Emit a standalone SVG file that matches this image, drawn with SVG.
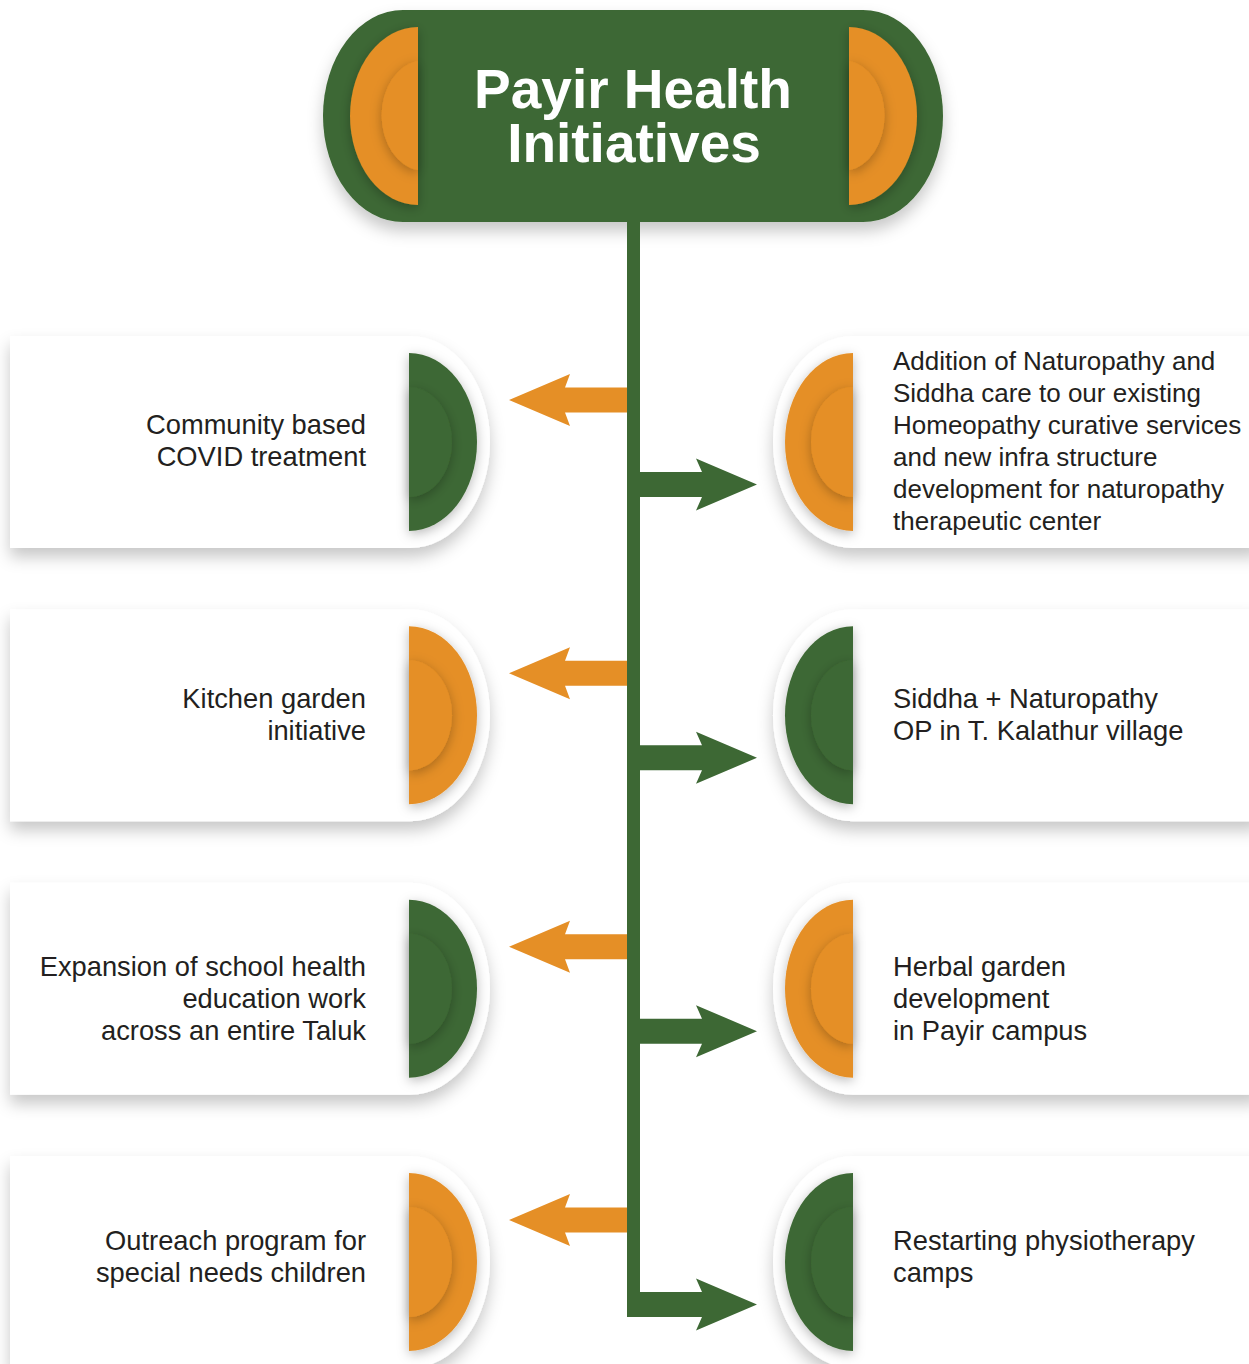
<svg xmlns="http://www.w3.org/2000/svg" width="1249" height="1364" viewBox="0 0 1249 1364">
<defs>
  <style>
    .g{fill:#3D6834}
    .o{fill:#E58F26}
    .card{fill:#ffffff}
    .lt{font-family:"Liberation Sans",Arial,sans-serif;font-size:27.3px;fill:#231F20;text-anchor:end}
    .rt{font-family:"Liberation Sans",Arial,sans-serif;font-size:27.3px;fill:#231F20;text-anchor:start}
    .rs{font-size:26px}
    .title{font-family:"Liberation Sans",Arial,sans-serif;font-size:55px;font-weight:bold;fill:#ffffff;text-anchor:middle}
  </style>
  <filter id="sh" x="-20%" y="-30%" width="140%" height="170%">
    <feDropShadow dx="0" dy="9" stdDeviation="8" flood-color="#000" flood-opacity="0.22"/>
  </filter>
  <filter id="hs" x="-40%" y="-30%" width="180%" height="160%">
    <feDropShadow dx="0" dy="3" stdDeviation="6" flood-color="#000" flood-opacity="0.28"/>
  </filter>
  <path id="lcard" d="M10,336 H410 A80,106 0 0 1 410,548 H10 Z"/>
  <path id="rcard" d="M1260,336 H853 A80,106 0 0 0 853,548 H1260 Z"/>
  <path id="lout" d="M409,353 A68,89 0 0 1 409,531 Z"/>
  <path id="lin" d="M409,387 A43,55 0 0 1 409,497 Z"/>
  <path id="rout" d="M853,353 A68,89 0 0 0 853,531 Z"/>
  <path id="rin" d="M853,387 A42,55 0 0 0 853,497 Z"/>
</defs>
<rect width="1249" height="1364" fill="#ffffff"/>

<g id="title-node">
  <path class="g" filter="url(#sh)" d="M403,10 H863 A80,106 0 0 1 863,222 H403 A80,106 0 0 1 403,10 Z"/>
  <path class="o" filter="url(#hs)" d="M418,27 A68,89 0 0 0 418,205 Z"/>
  <path class="o" filter="url(#hs)" d="M418,61 A42,55 0 0 0 418,170 Z"/>
  <path class="o" filter="url(#hs)" d="M849,27 A68,89 0 0 1 849,205 Z"/>
  <path class="o" filter="url(#hs)" d="M849,61 A41,55 0 0 1 849,170 Z"/>
  <text class="title" x="633" y="108">Payir Health</text>
  <text class="title" x="634" y="162">Initiatives</text>
</g>

<g id="left-1">
  <use href="#lcard" class="card" filter="url(#sh)"/>
  <use href="#lout" class="g" filter="url(#hs)"/>
  <use href="#lin" class="g" filter="url(#hs)"/>
  <text class="lt" x="366" y="434">Community based</text>
  <text class="lt" x="366" y="466">COVID treatment</text>
</g>
<g id="left-2" transform="translate(0,273.3)">
  <use href="#lcard" class="card" filter="url(#sh)"/>
  <use href="#lout" class="o" filter="url(#hs)"/>
  <use href="#lin" class="o" filter="url(#hs)"/>
  <text class="lt" x="366" y="435">Kitchen garden</text>
  <text class="lt" x="366" y="467">initiative</text>
</g>
<g id="left-3" transform="translate(0,546.7)">
  <use href="#lcard" class="card" filter="url(#sh)"/>
  <use href="#lout" class="g" filter="url(#hs)"/>
  <use href="#lin" class="g" filter="url(#hs)"/>
  <text class="lt" x="366" y="429">Expansion of school health</text>
  <text class="lt" x="366" y="461">education work</text>
  <text class="lt" x="366" y="493">across an entire Taluk</text>
</g>
<g id="left-4" transform="translate(0,820)">
  <use href="#lcard" class="card" filter="url(#sh)"/>
  <use href="#lout" class="o" filter="url(#hs)"/>
  <use href="#lin" class="o" filter="url(#hs)"/>
  <text class="lt" x="366" y="430">Outreach program for</text>
  <text class="lt" x="366" y="462">special needs children</text>
</g>

<g id="right-1">
  <use href="#rcard" class="card" filter="url(#sh)"/>
  <use href="#rout" class="o" filter="url(#hs)"/>
  <use href="#rin" class="o" filter="url(#hs)"/>
  <text class="rt rs" x="893" y="370">Addition of Naturopathy and</text>
  <text class="rt rs" x="893" y="402">Siddha care to our existing</text>
  <text class="rt rs" x="893" y="434">Homeopathy curative services</text>
  <text class="rt rs" x="893" y="466">and new infra structure</text>
  <text class="rt rs" x="893" y="498">development for naturopathy</text>
  <text class="rt rs" x="893" y="530">therapeutic center</text>
</g>
<g id="right-2" transform="translate(0,273.3)">
  <use href="#rcard" class="card" filter="url(#sh)"/>
  <use href="#rout" class="g" filter="url(#hs)"/>
  <use href="#rin" class="g" filter="url(#hs)"/>
  <text class="rt" x="893" y="435">Siddha + Naturopathy</text>
  <text class="rt" x="893" y="467">OP in T. Kalathur village</text>
</g>
<g id="right-3" transform="translate(0,546.7)">
  <use href="#rcard" class="card" filter="url(#sh)"/>
  <use href="#rout" class="o" filter="url(#hs)"/>
  <use href="#rin" class="o" filter="url(#hs)"/>
  <text class="rt" x="893" y="429">Herbal garden</text>
  <text class="rt" x="893" y="461">development</text>
  <text class="rt" x="893" y="493">in Payir campus</text>
</g>
<g id="right-4" transform="translate(0,820)">
  <use href="#rcard" class="card" filter="url(#sh)"/>
  <use href="#rout" class="g" filter="url(#hs)"/>
  <use href="#rin" class="g" filter="url(#hs)"/>
  <text class="rt" x="893" y="430">Restarting physiotherapy</text>
  <text class="rt" x="893" y="462">camps</text>
</g>

<g id="connectors">
  <rect class="g" x="627" y="220" width="13" height="1097"/>
  <polygon class="o" points="509,400 570,374 565,387.5 627,387.5 627,412.5 565,412.5 570,426"/>
  <polygon class="o" points="509,673.3 570,647.3 565,660.8 627,660.8 627,685.8 565,685.8 570,699.3"/>
  <polygon class="o" points="509,946.7 570,920.7 565,934.2 627,934.2 627,959.2 565,959.2 570,972.7"/>
  <polygon class="o" points="509,1220 570,1194 565,1207.5 627,1207.5 627,1232.5 565,1232.5 570,1246"/>
  <polygon class="g" points="757,484.5 696,458.5 702,472 639,472 639,497 702,497 696,510.5"/>
  <polygon class="g" points="757,757.8 696,731.8 702,745.3 639,745.3 639,770.3 702,770.3 696,783.8"/>
  <polygon class="g" points="757,1031.2 696,1005.2 702,1018.7 639,1018.7 639,1043.7 702,1043.7 696,1057.2"/>
  <polygon class="g" points="757,1304.5 696,1278.5 702,1292 627,1292 627,1317 702,1317 696,1330.5"/>
</g>
</svg>
